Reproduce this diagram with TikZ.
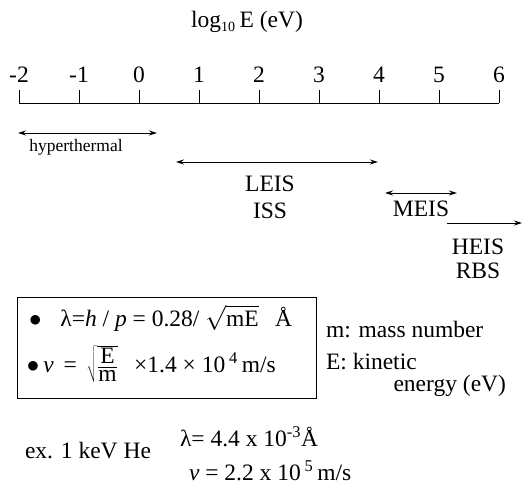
\documentclass[tikz,border=0pt]{standalone}
\usepackage{fontspec}
\setmainfont{Liberation Serif}
\usetikzlibrary{arrows.meta}
\begin{document}
\begin{tikzpicture}[x=1pt,y=-1pt,
  every node/.style={inner sep=0pt,outer sep=0pt,font=\fontsize{23.5}{27}\selectfont},
  small/.style={font=\fontsize{17.5}{20}\selectfont},
  rng/.style={line width=0.9pt,{Stealth[length=8pt,width=5pt]}-{Stealth[length=8pt,width=5pt]}},
  rngr/.style={line width=0.9pt,-{Stealth[length=8pt,width=5pt]}},
  axis/.style={line width=0.9pt}]
\useasboundingbox (0,0) rectangle (522,487);
% title
\node (title) at (247,22) {log\textsubscript{\fontsize{14}{15}\selectfont 10}\,E (eV)};
% axis
\coordinate (a0) at (19,103);
\coordinate (a1) at (499,103);
\draw[axis] (a0) -- (a1);
\foreach \v [count=\i from 0] in {-2,-1,0,1,2,3,4,5,6} {
  \coordinate (t\i) at (19+60*\i,103);
  \coordinate (u\i) at (19+60*\i,90);
  \draw[axis] (t\i) -- (u\i);
  \node[anchor=base] (n\i) at (19+60*\i,82) {\v};
}
% ranges
\coordinate (h0) at (18,133); \coordinate (h1) at (157,133);
\draw[rng] (h0) -- (h1);
\node[small] (hyp) at (76,147) {hyperthermal};
\coordinate (l0) at (176,162); \coordinate (l1) at (378,162);
\draw[rng] (l0) -- (l1);
\node (leis) at (270,184) {LEIS};
\node (iss) at (270,211) {ISS};
\coordinate (m0) at (385,193); \coordinate (m1) at (457,193);
\draw[rng] (m0) -- (m1);
\node (meis) at (421,209) {MEIS};
\coordinate (e0) at (447,223); \coordinate (e1) at (522,223);
\draw[rngr] (e0) -- (e1);
\node (heis) at (478,247) {HEIS};
\node (rbs) at (478,271) {RBS};
% formula box
\draw[line width=0.9pt] (17,297) rectangle (316,398);
\node[anchor=west] (f1) at (29,318) {$\bullet$\;\; λ=\textit{h} / \textit{p} = 0.28/ $\sqrt{\hbox{mE}}$\;\, Å};
\node[anchor=west] (f2) at (27,364) {$\bullet$\,\textit{ν}\, =\, $\sqrt{\frac{\hbox{E}}{\hbox{m}}}$\;\, ×1.4 × 10\,\textsuperscript{4}\,m/s};
\node[anchor=west] (mm) at (326,330) {m: mass number};
\node[anchor=west] (ek) at (326,362) {E: kinetic};
\node[anchor=east] (en) at (506,386) {energy (eV)};
% example
\node[anchor=west] (ex) at (25,451) {ex. 1 keV He};
\node[anchor=west] (lam) at (180,437) {λ= 4.4 x 10\textsuperscript{-3}Å};
\node[anchor=west] (nu) at (189,471) {\textit{ν} = 2.2 x 10\,\textsuperscript{5}\,m/s};
\end{tikzpicture}
\end{document}
